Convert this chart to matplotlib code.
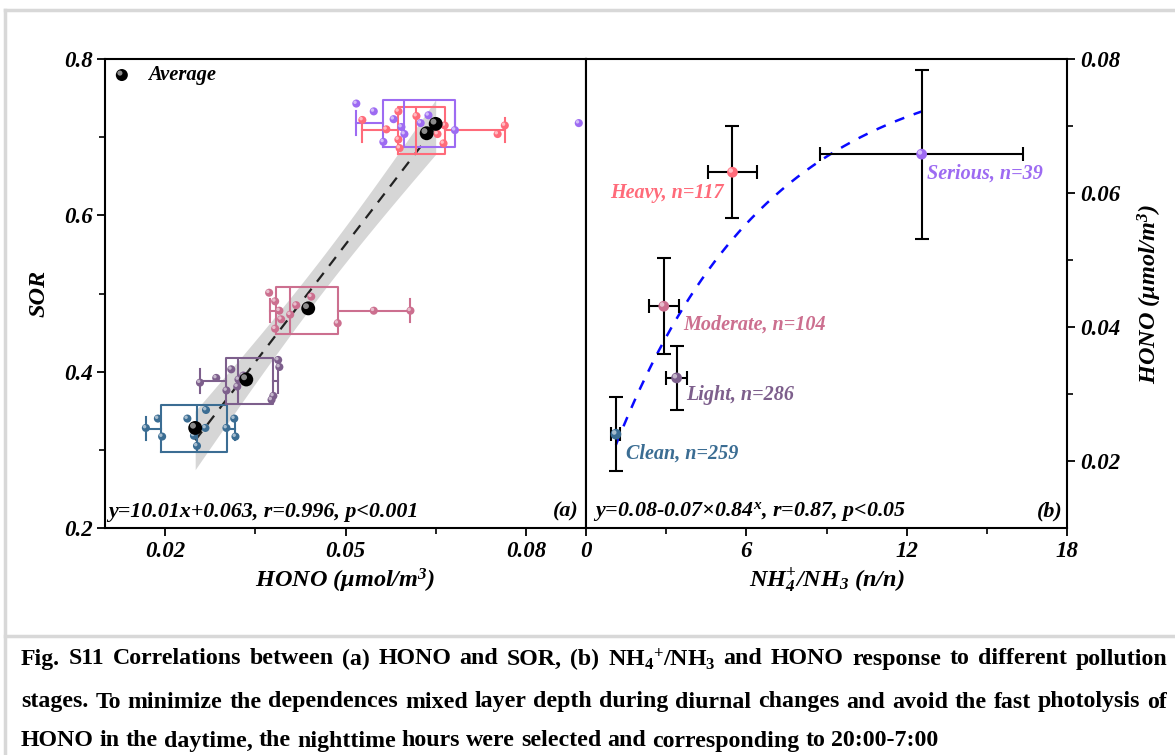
#!/usr/bin/env python3
import numpy as np
import matplotlib as mpl
mpl.use('Agg')
import matplotlib.pyplot as plt
from matplotlib.lines import Line2D
from matplotlib.transforms import offset_copy
from matplotlib.ticker import FormatStrFormatter

plt.rcParams['font.family'] = 'Liberation Serif'
plt.rcParams['mathtext.fontset'] = 'custom'
plt.rcParams['mathtext.rm'] = 'Liberation Serif:italic:bold'
plt.rcParams['mathtext.it'] = 'Liberation Serif:italic:bold'
plt.rcParams['mathtext.bf'] = 'Liberation Serif:bold'

# ---- panel (a): HONO vs SOR ----
stages = ['Clean', 'Light', 'Moderate', 'Heavy', 'Serious']
colors = ['#3b6d93', '#7d5f8c', '#cc6f8f', '#ff6b7a', '#9d6bf2']

clean_x = [0.0168, 0.0188, 0.0195, 0.0237, 0.0248, 0.0253, 0.0268, 0.0267, 0.0302, 0.0315, 0.0317]
clean_y = [0.328, 0.340, 0.317, 0.340, 0.318, 0.305, 0.351, 0.328, 0.328, 0.340, 0.317]
light_x = [0.0258, 0.0285, 0.0310, 0.0302, 0.0322, 0.0320, 0.0330, 0.0388, 0.0390, 0.0380, 0.0377]
light_y = [0.386, 0.392, 0.403, 0.376, 0.390, 0.381, 0.395, 0.415, 0.406, 0.369, 0.364]
moderate_x = [0.0373, 0.0383, 0.0390, 0.0393, 0.0383, 0.0408, 0.0418, 0.0443, 0.0487, 0.0547, 0.0608]
moderate_y = [0.501, 0.490, 0.478, 0.467, 0.455, 0.473, 0.485, 0.496, 0.462, 0.478, 0.478]
heavy_x = [0.0528, 0.0588, 0.0568, 0.0588, 0.0590, 0.0618, 0.0653, 0.0665, 0.0663, 0.0753, 0.0765]
heavy_y = [0.722, 0.733, 0.710, 0.697, 0.686, 0.727, 0.704, 0.715, 0.692, 0.704, 0.715]
serious_x = [0.0518, 0.0547, 0.0580, 0.0563, 0.0593, 0.0598, 0.0625, 0.0638, 0.0682, 0.0888]
serious_y = [0.743, 0.733, 0.723, 0.694, 0.713, 0.704, 0.718, 0.728, 0.709, 0.718]

# box statistics of HONO per stage, drawn at the stage's SOR level
hono_whislo = [0.0168, 0.0258, 0.0375, 0.0528, 0.0518]
hono_q1 = [0.0193, 0.0302, 0.0385, 0.0587, 0.0563]
hono_med = [0.0253, 0.0322, 0.0408, 0.0618, 0.0598]
hono_q3 = [0.0303, 0.0380, 0.0487, 0.0665, 0.0682]
hono_whishi = [0.0317, 0.0388, 0.0608, 0.0765, 0.0682]
sor_level = [0.327, 0.388, 0.478, 0.709, 0.718]

avg_hono = [0.0250, 0.0335, 0.0438, 0.0635, 0.0650]
avg_sor = [0.328, 0.390, 0.481, 0.705, 0.717]

# ---- panel (b): NH4+/NH3 vs HONO ----
ratio = [1.12, 3.39, 2.91, 5.48, 12.56]
ratio_err = [0.17, 0.40, 0.56, 0.92, 3.80]
hono_b = [0.0240, 0.0324, 0.0431, 0.0631, 0.0658]
hono_b_err = [0.0055, 0.0048, 0.0072, 0.0069, 0.0126]
stage_n = [259, 286, 104, 117, 39]

bi = dict(family='Liberation Serif', weight='bold', style='italic')

fig = plt.figure(figsize=(11.75, 7.55), dpi=100)
W, H = 1175.0, 755.0
ax1 = fig.add_axes([105 / W, (H - 528) / H, 481 / W, 469 / H])
ax2 = fig.add_axes([586 / W, (H - 528) / H, 481 / W, 469 / H])


def ball(ax, x, y, color, size, z):
    ax.scatter(x, y, s=size, color=color, edgecolor='none', zorder=z)
    d = np.sqrt(size)
    tr = offset_copy(ax.transData, fig=fig, x=-0.16 * d, y=0.16 * d, units='points')
    ax.scatter(x, y, s=size * 0.18, color='white', alpha=0.55,
               edgecolor='none', transform=tr, zorder=z + 0.1)


# regression band + line from stage averages
xa = np.array(avg_hono)
ya = np.array(avg_sor)
k, b0 = np.polyfit(xa, ya, 1)
xs = np.linspace(xa.min(), xa.max(), 100)
res = ya - (k * xa + b0)
s = np.sqrt(np.sum(res ** 2) / (len(xa) - 2))
se = s * np.sqrt(1 / len(xa) + (xs - xa.mean()) ** 2 / np.sum((xa - xa.mean()) ** 2))
t95 = 3.182
ax1.fill_between(xs, k * xs + b0 - t95 * se, k * xs + b0 + t95 * se,
                 color='#d6d6d6', lw=0, zorder=1)
ax1.plot(xs, k * xs + b0, color='#222222', lw=1.6, dashes=(5, 4), zorder=2)

pts = [(clean_x, clean_y), (light_x, light_y), (moderate_x, moderate_y),
       (heavy_x, heavy_y), (serious_x, serious_y)]
for i in range(5):
    st = [dict(whislo=hono_whislo[i], q1=hono_q1[i], med=hono_med[i],
               q3=hono_q3[i], whishi=hono_whishi[i], fliers=[])]
    c = colors[i]
    ax1.bxp(st, positions=[sor_level[i]], widths=0.06, capwidths=0.03,
            orientation='horizontal', showfliers=False, manage_ticks=False,
            boxprops=dict(color=c, lw=1.5), medianprops=dict(color=c, lw=1.5),
            whiskerprops=dict(color=c, lw=1.5), capprops=dict(color=c, lw=1.5))
    ball(ax1, pts[i][0], pts[i][1], c, 34, 4)

ball(ax1, avg_hono, avg_sor, 'black', 100, 6)

# legend
ball(ax1, [0.0128], [0.7795], 'black', 75, 6)
ax1.text(0.09, 0.966, 'Average', transform=ax1.transAxes, fontsize=14.8,
         va='center', ha='left', **bi)

ax1.set_xlim(0.01, 0.09)
ax1.set_ylim(0.2, 0.8)
ax1.set_xticks([0.02, 0.05, 0.08])
ax1.set_xticks([0.035, 0.065], minor=True)
ax1.xaxis.set_major_formatter(FormatStrFormatter('%.2f'))
ax1.set_yticks([0.2, 0.4, 0.6, 0.8])
ax1.set_yticks([0.3, 0.5, 0.7], minor=True)
ax1.yaxis.set_major_formatter(FormatStrFormatter('%.1f'))
ax1.set_xlabel('HONO (μmol/m$^{3}$)', fontsize=17.5, labelpad=3, **bi)
ax1.set_ylabel('SOR', fontsize=17.5, labelpad=10, **bi)
ax1.text(0.007, 0.035, 'y=10.01x+0.063, r=0.996, p<0.001', transform=ax1.transAxes,
         fontsize=15.8, ha='left', va='center', **bi)
ax1.text(0.985, 0.035, '(a)', transform=ax1.transAxes, fontsize=15.8,
         ha='right', va='center', **bi)

# ---- panel (b) ----
xf = np.linspace(min(ratio), max(ratio), 200)
ax2.plot(xf, 0.08 - 0.07 * 0.84 ** xf, color='#0a0aff', lw=1.8, dashes=(4, 4), zorder=2)
ax2.errorbar(ratio, hono_b, xerr=ratio_err, yerr=hono_b_err, fmt='none',
             ecolor='black', elinewidth=1.5, capsize=5, capthick=1.5, zorder=3)
for i in range(5):
    ball(ax2, [ratio[i]], [hono_b[i]], colors[i], 60, 5)

lab_off = [(7, -14, 'left'), (7, -12, 'left'), (14, -13, 'left'),
           (-6, -15, 'right'), (4, -14, 'left')]
for i in range(5):
    dx, dy, ha = lab_off[i]
    ax2.annotate('%s, n=%d' % (stages[i], stage_n[i]), (ratio[i], hono_b[i]),
                 xytext=(dx, dy), textcoords='offset points', ha=ha, va='center',
                 color=colors[i], fontsize=14.5, **bi)

ax2.set_xlim(0, 18)
ax2.set_ylim(0.01, 0.08)
ax2.set_xticks([0, 6, 12, 18])
ax2.set_xticks([3, 9, 15], minor=True)
ax2.set_yticks([0.02, 0.04, 0.06, 0.08])
ax2.set_yticks([0.03, 0.05, 0.07], minor=True)
ax2.yaxis.set_major_formatter(FormatStrFormatter('%.2f'))
ax2.yaxis.tick_right()
ax2.yaxis.set_label_position('right')
ax2.set_xlabel('NH$_{4}^{+}$/NH$_{3}$ (n/n)', fontsize=17.5, labelpad=3, **bi)
ax2.set_ylabel('HONO (μmol/m$^{3}$)', fontsize=17.5, labelpad=11, rotation=90, **bi)
ax2.text(0.015, 0.035, 'y=0.08-0.07×0.84$^{x}$, r=0.87, p<0.05', transform=ax2.transAxes,
         fontsize=15.8, ha='left', va='center', **bi)
ax2.text(0.99, 0.035, '(b)', transform=ax2.transAxes, fontsize=15.8,
         ha='right', va='center', **bi)

for ax in (ax1, ax2):
    for sp in ax.spines.values():
        sp.set_linewidth(1.5)
    ax.tick_params(which='major', direction='out', length=6, width=1.3, labelsize=16.5)
    ax.tick_params(which='minor', direction='out', length=4, width=1.2)
    for lab in ax.get_xticklabels() + ax.get_yticklabels():
        lab.set_fontweight('bold')
        lab.set_fontstyle('italic')
ax1.tick_params(axis='y', pad=3)
ax2.tick_params(axis='y', which='both', left=False, right=True)

# frame of the figure block
gray = '#d8d8d8'
fig.add_artist(Line2D([5 / W, 5 / W], [0, 1 - 10 / H], color=gray, lw=2.5))
fig.add_artist(Line2D([5 / W, 1], [1 - 10 / H, 1 - 10 / H], color=gray, lw=2.5))
fig.add_artist(Line2D([5 / W, 1], [1 - 636 / H, 1 - 636 / H], color=gray, lw=2.5))

# justified caption
cap_lines = [
    ('Fig. S11 Correlations between (a) HONO and SOR, (b) '
     'NH$_\\mathbf{4}$$^\\mathbf{+}$/NH$_\\mathbf{3}$ and HONO response to different pollution', True),
    ('stages. To minimize the dependences mixed layer depth during diurnal changes '
     'and avoid the fast photolysis of', True),
    ('HONO in the daytime, the nighttime hours were selected and corresponding to 20:00-7:00', False),
]
cap_y = [659, 702, 741]
renderer = fig.canvas.get_renderer()
x0, x1 = 21.0, 1167.0
for (line, just), yy in zip(cap_lines, cap_y):
    words = line.split(' ')
    tx = [fig.text(0, 1 - yy / H, w, fontsize=17.2, fontweight='bold',
                   family='Liberation Serif', va='center', ha='left') for w in words]
    wd = [t.get_window_extent(renderer).width for t in tx]
    gap = (x1 - x0 - sum(wd)) / (len(words) - 1) if just else 6.0
    xx = x0
    for t, w in zip(tx, wd):
        t.set_x(xx / W)
        xx += w + gap

fig.savefig('out.png', dpi=100)
plt.close(fig)
